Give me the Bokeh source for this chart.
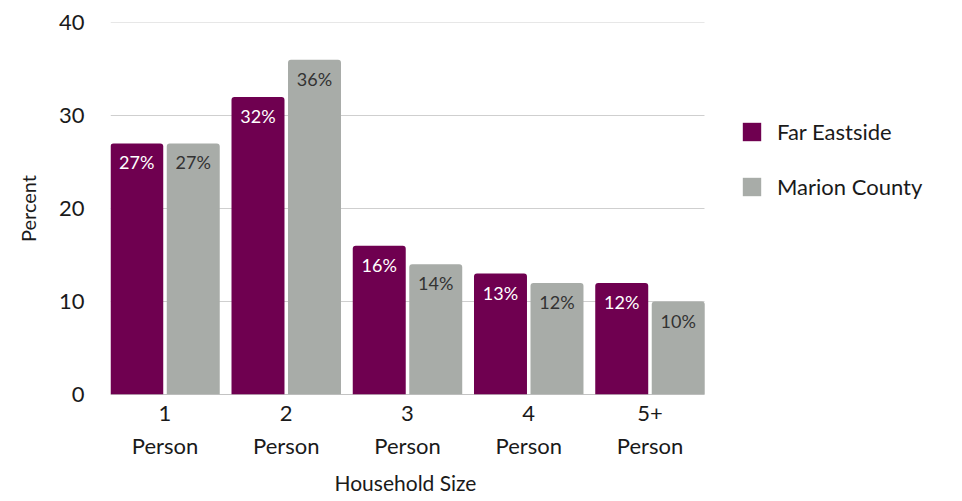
from bokeh.plotting import figure
from bokeh.models import (ColumnDataSource, Range1d, FixedTicker, LinearAxis,
                          Legend, LegendItem, Title)
from bokeh.core.properties import value
from bokeh.embed import file_html
from bokeh.resources import INLINE

# ---- data ----
categories = ["1", "2", "3", "4", "5+"]
sublabel = "Person"
far_eastside = [27, 32, 16, 13, 12]
marion_county = [27, 36, 14, 12, 10]
y_ticks = [0, 10, 20, 30, 40]

PURPLE = "#6f0050"
GRAY = "#a8aca8"
FONT = "Lato"
TXT = "#1a1a1a"

xs = list(range(len(categories)))
off = 0.233
bw = 0.437
x_lo, x_hi = -0.4495, 4.4495          # extent of the bar area
x_legend_room = 2.128                  # extra room on the right for the legend

src1 = ColumnDataSource(dict(x=[x - off for x in xs], top=far_eastside,
                             lab=[f"{v}%" for v in far_eastside]))
src2 = ColumnDataSource(dict(x=[x + off for x in xs], top=marion_county,
                             lab=[f"{v}%" for v in marion_county]))

p = figure(width=962, height=501, output_backend="svg", toolbar_location=None,
           x_range=Range1d(x_lo, x_hi + x_legend_room), y_range=Range1d(0, 40),
           min_border_left=110, min_border_right=0, min_border_top=22,
           min_border_bottom=0, x_axis_type=None, outline_line_color=None)
p.background_fill_color = "white"
p.border_fill_color = "white"
p.xgrid.grid_line_color = None
p.ygrid.grid_line_color = None

# gridlines limited to the bar area
grid_src = ColumnDataSource(dict(x0=[x_lo] * len(y_ticks), x1=[x_hi] * len(y_ticks),
                                 y=y_ticks))
p.segment(x0="x0", x1="x1", y0="y", y1="y", source=grid_src,
          line_color="#cfcfcf", line_width=1)
p.segment(x0=[x_lo], x1=[x_hi], y0=[0], y1=[0], line_color="#a0a0a0", line_width=1)

r1 = p.vbar(x="x", top="top", width=bw, source=src1, fill_color=PURPLE,
            line_color=None, border_radius=(3, 3, 0, 0))
r2 = p.vbar(x="x", top="top", width=bw, source=src2, fill_color=GRAY,
            line_color=None, border_radius=(3, 3, 0, 0))

p.text(x="x", y="top", text="lab", source=src1, text_color="white",
       text_align="center", text_baseline="top", y_offset=8,
       text_font=value(FONT), text_font_size="18px")
p.text(x="x", y="top", text="lab", source=src2, text_color="#333333",
       text_align="center", text_baseline="top", y_offset=8,
       text_font=value(FONT), text_font_size="18px")

# y axis
ya = p.yaxis[0]
ya.ticker = FixedTicker(ticks=y_ticks)
ya.axis_line_color = None
ya.major_tick_line_color = None
ya.minor_tick_line_color = None
ya.major_label_standoff = 20
ya.major_label_text_font = FONT
ya.major_label_text_font_size = "22px"
ya.major_label_text_color = TXT
ya.axis_label = "Percent"
ya.axis_label_text_font = FONT
ya.axis_label_text_font_size = "20px"
ya.axis_label_text_font_style = "normal"
ya.axis_label_text_color = TXT
ya.axis_label_standoff = 16

# x axes (two rows of labels)
xa1 = LinearAxis(ticker=FixedTicker(ticks=xs),
                 major_label_overrides={x: c for x, c in zip(xs, categories)})
xa1.axis_line_color = None
xa1.major_tick_line_color = None
xa1.minor_tick_line_color = None
xa1.major_label_standoff = 5
xa1.major_label_text_font = FONT
xa1.major_label_text_font_size = "22px"
xa1.major_label_text_color = TXT

xa2 = LinearAxis(ticker=FixedTicker(ticks=xs),
                 major_label_overrides={x: sublabel for x in xs})
xa2.axis_line_color = None
xa2.major_tick_line_color = None
xa2.minor_tick_line_color = None
xa2.major_label_standoff = 2
xa2.major_label_text_font = FONT
xa2.major_label_text_font_size = "22px"
xa2.major_label_text_color = TXT

p.add_layout(xa1, "below")
p.add_layout(xa2, "below")

xtitle = Title(text="Household Size", align="left", offset=224,
               text_font=FONT, text_font_size="21px", text_font_style="normal",
               text_color=TXT, standoff=13)
p.add_layout(xtitle, "below")

legend = Legend(items=[LegendItem(label="Far Eastside", renderers=[r1]),
                       LegendItem(label="Marion County", renderers=[r2])],
                location=(630, 194), orientation="vertical")
legend.label_text_font = FONT
legend.label_text_font_size = "22px"
legend.label_text_color = TXT
legend.glyph_width = 23
legend.glyph_height = 23
legend.label_standoff = 14
legend.spacing = 28
legend.padding = 0
legend.margin = 0
legend.border_line_color = None
legend.background_fill_alpha = 0
p.add_layout(legend, "center")

open("out.html", "w").write(file_html(p, INLINE))
